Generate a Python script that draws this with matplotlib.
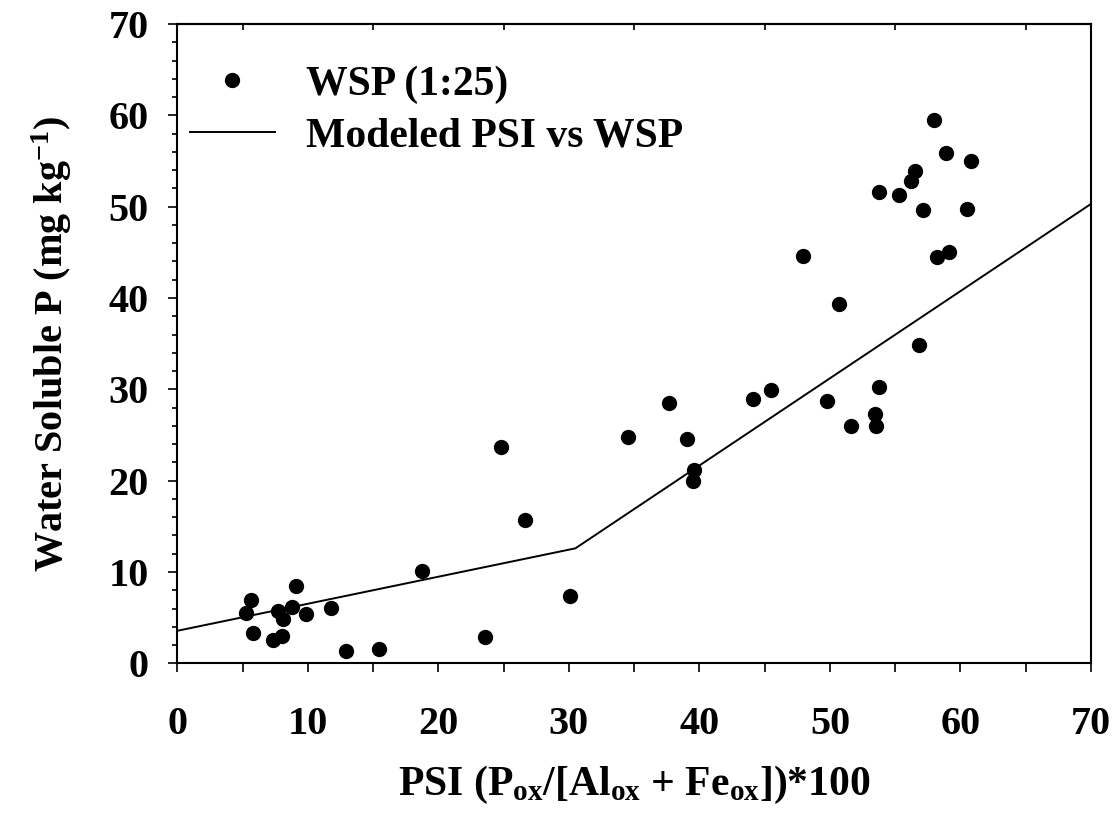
import matplotlib
matplotlib.use('Agg')
import matplotlib.pyplot as plt
from matplotlib.ticker import MultipleLocator, FixedLocator

plt.rcParams['font.family'] = ['Liberation Serif', 'DejaVu Serif']
plt.rcParams['font.weight'] = 'bold'
plt.rcParams['mathtext.fontset'] = 'custom'
plt.rcParams['mathtext.rm'] = 'Liberation Serif:bold'
plt.rcParams['mathtext.bf'] = 'Liberation Serif:bold'
plt.rcParams['mathtext.it'] = 'Liberation Serif:bold'

# measured WSP against PSI
psi = [5.24, 5.63, 5.83, 7.34, 8.0, 7.70, 8.08, 8.8, 9.11, 9.88, 11.74, 12.92,
       15.43, 18.73, 23.56, 30.08, 24.82, 26.61, 34.56, 37.71, 39.03, 39.57,
       39.49, 44.07, 45.48, 47.9, 49.8, 50.67, 51.59, 53.45, 53.56, 53.76,
       53.79, 55.32, 56.19, 56.5, 56.83, 57.13, 57.98, 58.21, 59.1, 58.92,
       60.51, 60.81]
wsp = [5.55, 6.9, 3.28, 2.5, 2.98, 5.7, 4.9, 6.15, 8.5, 5.35, 6.1, 1.38,
       1.56, 10.15, 2.84, 7.35, 23.65, 15.68, 24.77, 28.45, 24.55, 21.15,
       20.0, 28.9, 29.9, 44.6, 28.7, 39.3, 25.95, 27.35, 26.0, 30.25,
       51.65, 51.25, 52.8, 53.9, 34.9, 49.6, 59.5, 44.5, 45.05, 55.9,
       49.75, 54.95]

# split-line model
model_x = [0, 30.5, 70]
model_y = [3.56, 12.59, 50.3]

FS = 29

fig = plt.figure(figsize=(11.17, 8.16), dpi=100)
ax = fig.add_axes([0.1587, 0.1871, 0.8180, 0.7835])

ax.plot(psi, wsp, 'o', color='black', markersize=10, label='WSP (1:25)')
ax.plot(model_x, model_y, '-', color='black', lw=1.4, label='Modeled PSI vs WSP')

ax.set_xlim(0, 70)
ax.set_ylim(0, 70)
ax.xaxis.set_major_locator(MultipleLocator(10))
ax.xaxis.set_minor_locator(MultipleLocator(5))
ax.yaxis.set_major_locator(MultipleLocator(10))
ax.yaxis.set_minor_locator(MultipleLocator(2))
ax.tick_params(axis='both', which='major', direction='out', length=6.5, width=1.2,
               labelsize=FS)
ax.tick_params(axis='x', which='minor', direction='out', length=6.5, width=1.2)
ax.tick_params(axis='y', which='minor', direction='out', length=3.5, width=1.2)
ax.tick_params(axis='y', which='major', pad=14)
ax.tick_params(axis='x', which='major', pad=24)
for lab in ax.get_xticklabels() + ax.get_yticklabels():
    lab.set_fontweight('bold')
for sp in ax.spines.values():
    sp.set_linewidth(1.5)

# inward ticks on the top edge at the half-decades
top = ax.secondary_xaxis('top')
top.xaxis.set_major_locator(FixedLocator([5, 15, 25, 35, 45, 55, 65]))
top.tick_params(direction='in', length=4, width=1.2, labeltop=False)
top.spines['top'].set_linewidth(1.5)

ax.set_xlabel(r'PSI (P$_{\mathbf{ox}}$/[Al$_{\mathbf{ox}}$ + Fe$_{\mathbf{ox}}$])*100',
              fontsize=FS + 1, fontweight='bold', va='center')
ax.xaxis.set_label_coords(0.5, -0.19)
ax.set_ylabel(r'Water Soluble P (mg kg$^{\mathbf{-1}}$)', fontsize=FS,
              fontweight='bold', va='center')
ax.yaxis.set_label_coords(-0.137, 0.5)

ax.legend(loc='upper left', bbox_to_anchor=(0.0139, 0.935), frameon=False,
          prop={'weight': 'bold', 'size': 30}, handlelength=2.04,
          handletextpad=0.74, labelspacing=0.32, borderaxespad=0, borderpad=0)

fig.savefig('out.png', dpi=100)
